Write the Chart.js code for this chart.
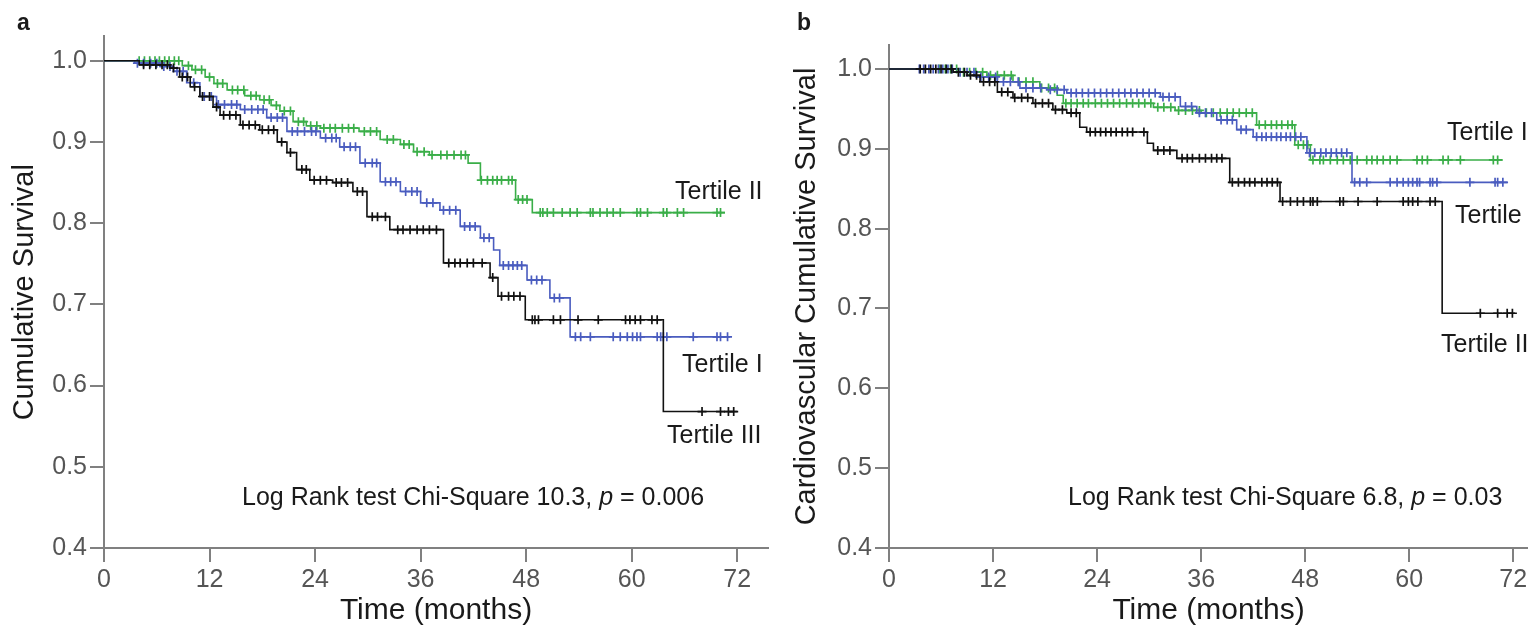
<!DOCTYPE html>
<html>
<head>
<meta charset="utf-8">
<script src="https://cdn.jsdelivr.net/npm/chart.js@4.4.1/dist/chart.umd.min.js"></script>
<style>
  body { margin: 0; background: #fff; }
  #wrap { position: relative; width: 1528px; height: 628px; overflow: hidden; }
  canvas { position: absolute; top: 0; }
  #chartA { left: 0; }
  #chartB { left: 780px; }
</style>
</head>
<body>
<div id="wrap">
  <canvas id="chartA" width="780" height="628"></canvas>
  <canvas id="chartB" width="748" height="628"></canvas>
</div>
<script>
// Kaplan-Meier curves
// times in months, survival as proportion; last entry is end of follow-up

// panel a - all-cause survival
const aT1Time = [0, 3.5, 6.4, 7.9, 9.4, 10.9, 12.8, 15.5, 18.5, 20.8, 24.6, 26.8, 29.1, 31.4, 33.7, 36.0, 38.2, 40.5, 42.8, 44.3, 45.0, 48.1, 50.7, 53.0, 71.2];
const aT1Surv = [1.0, 0.997, 0.993, 0.987, 0.973, 0.956, 0.946, 0.940, 0.930, 0.913, 0.905, 0.894, 0.874, 0.851, 0.839, 0.825, 0.816, 0.796, 0.782, 0.767, 0.748, 0.730, 0.708, 0.660, 0.660];
const aT1Cens = [3.8, 4.5, 5.3, 6.0, 6.8, 7.5, 8.3, 9.0, 10.2, 11.4, 12.2, 13.0, 13.7, 14.5, 15.1, 16.0, 16.8, 17.5, 18.1, 19.0, 19.7, 20.3, 21.4, 22.0, 22.8, 23.6, 24.1, 25.2, 25.9, 26.4, 27.3, 28.0, 28.6, 29.7, 30.5, 31.0, 32.0, 32.6, 33.2, 34.3, 35.0, 35.6, 36.7, 37.4, 38.6, 39.3, 40.0, 41.0, 41.6, 42.2, 43.2, 43.8, 45.4, 46.0, 46.5, 47.0, 47.5, 48.6, 49.2, 49.8, 51.2, 51.8, 53.6, 54.2, 55.3, 57.9, 58.7, 59.5, 60.1, 60.6, 61.0, 62.9, 63.3, 63.6, 64.0, 67.0, 69.7, 70.1, 70.9];

const aT2Time = [0, 8.9, 10.0, 11.5, 12.5, 14.0, 16.0, 17.7, 19.0, 20.0, 21.5, 23.0, 24.6, 29.0, 31.4, 33.7, 35.2, 37.0, 41.4, 42.8, 46.8, 48.7, 70.6];
const aT2Surv = [1.0, 0.994, 0.989, 0.980, 0.972, 0.964, 0.957, 0.952, 0.945, 0.938, 0.925, 0.920, 0.917, 0.913, 0.903, 0.897, 0.888, 0.884, 0.874, 0.853, 0.829, 0.813, 0.813];
const aT2Cens = [4.0, 4.6, 5.2, 5.8, 6.3, 6.9, 7.4, 8.0, 8.5, 9.6, 10.4, 11.1, 12.0, 12.9, 13.5, 14.6, 15.2, 15.9, 16.7, 17.3, 18.2, 18.8, 19.6, 20.5, 21.2, 22.1, 22.7, 23.5, 24.2, 25.0, 25.7, 26.3, 27.1, 27.8, 28.4, 29.6, 30.3, 31.0, 32.2, 32.9, 34.1, 34.7, 35.6, 36.4, 37.3, 38.3, 39.0, 39.8, 40.6, 41.1, 42.9, 43.6, 44.2, 44.7, 45.2, 46.0, 46.4, 47.1, 47.6, 48.1, 49.6, 49.9, 50.4, 51.1, 52.1, 53.0, 53.8, 55.3, 55.6, 56.4, 57.2, 57.9, 58.7, 60.6, 61.0, 61.8, 63.6, 64.0, 65.2, 65.9, 69.7, 70.1];

const aT3Time = [0, 4.0, 7.5, 8.6, 9.8, 10.9, 12.4, 13.2, 15.5, 17.7, 19.7, 20.8, 21.9, 23.4, 26.0, 28.3, 29.9, 32.5, 38.6, 43.9, 44.8, 47.9, 63.6, 72.0];
const aT3Surv = [1.0, 0.995, 0.991, 0.980, 0.968, 0.956, 0.943, 0.933, 0.921, 0.915, 0.900, 0.887, 0.866, 0.853, 0.850, 0.839, 0.808, 0.792, 0.751, 0.733, 0.710, 0.681, 0.568, 0.568];
const aT3Cens = [4.5, 5.2, 5.9, 6.6, 7.2, 7.9, 8.9, 9.5, 10.3, 11.2, 12.0, 12.8, 13.6, 14.3, 15.0, 15.8, 16.5, 17.2, 18.0, 18.7, 19.3, 20.2, 21.2, 22.5, 23.0, 23.9, 24.6, 25.3, 26.4, 27.0, 27.7, 28.8, 29.4, 30.5, 31.1, 32.0, 33.4, 34.0, 34.8, 35.6, 36.3, 37.0, 37.8, 39.2, 39.9, 40.5, 41.3, 42.0, 43.0, 44.2, 45.2, 46.0, 46.6, 47.3, 48.7, 49.0, 49.4, 51.1, 51.9, 53.9, 56.2, 59.3, 59.8, 60.4, 61.0, 62.3, 62.9, 68.0, 70.1, 71.0, 71.6];

// panel b - cardiovascular survival
const bT1Time = [0, 7.4, 10.0, 12.5, 15.1, 18.2, 20.5, 31.3, 33.6, 35.5, 37.8, 40.1, 42.0, 48.2, 53.4, 71.4];
const bT1Surv = [1.0, 0.996, 0.990, 0.984, 0.976, 0.974, 0.970, 0.965, 0.953, 0.945, 0.936, 0.924, 0.915, 0.895, 0.858, 0.858];
const bT1Cens = [3.5, 4.0, 4.6, 5.1, 5.7, 6.2, 6.8, 7.3, 8.2, 9.0, 9.8, 10.6, 11.5, 12.3, 13.2, 14.0, 14.9, 15.8, 16.6, 17.5, 18.6, 19.4, 20.2, 21.0, 21.6, 22.3, 23.0, 23.7, 24.4, 25.1, 25.8, 26.5, 27.2, 27.9, 28.6, 29.3, 30.0, 30.7, 31.6, 32.3, 33.0, 34.2, 34.9, 35.8, 36.5, 37.2, 38.3, 39.0, 39.6, 40.6, 41.2, 42.4, 43.0, 43.5, 44.1, 44.7, 45.2, 45.8, 46.3, 46.9, 47.5, 48.5, 49.1, 49.8, 50.4, 51.0, 51.6, 52.2, 52.8, 53.7, 54.3, 55.1, 57.8, 58.6, 59.3, 59.9, 60.4, 60.9, 61.2, 62.4, 62.7, 63.2, 67.0, 69.9, 70.2, 70.8];

const bT2Time = [0, 8.2, 11.3, 14.3, 17.4, 19.4, 20.1, 30.5, 33.0, 36.0, 42.4, 46.8, 48.6, 70.8];
const bT2Surv = [1.0, 0.996, 0.992, 0.984, 0.976, 0.967, 0.957, 0.952, 0.948, 0.945, 0.930, 0.905, 0.886, 0.886];
const bT2Cens = [5.8, 6.5, 7.1, 7.8, 8.6, 9.3, 10.0, 10.8, 11.7, 12.5, 13.3, 14.1, 15.0, 15.8, 16.6, 17.6, 18.4, 19.1, 20.4, 21.0, 21.7, 22.4, 23.0, 23.8, 24.5, 25.2, 25.9, 26.6, 27.4, 28.1, 28.8, 29.5, 30.2, 31.0, 31.7, 32.5, 33.4, 34.2, 35.0, 35.8, 36.6, 37.4, 38.2, 39.0, 39.7, 40.4, 41.2, 41.9, 42.7, 43.4, 44.1, 44.7, 45.3, 46.0, 46.5, 47.2, 47.8, 48.3, 48.9, 49.7, 50.1, 50.9, 51.7, 52.4, 53.2, 54.0, 55.1, 55.7, 56.3, 57.0, 57.8, 58.6, 60.9, 61.5, 62.1, 63.9, 64.5, 65.9, 69.7, 70.2];

const bT3Time = [0, 7.4, 9.0, 10.5, 12.5, 14.3, 16.6, 18.9, 20.5, 22.0, 22.8, 29.8, 30.5, 33.2, 39.3, 45.1, 63.8, 72.2];
const bT3Surv = [1.0, 0.996, 0.992, 0.984, 0.971, 0.964, 0.957, 0.949, 0.945, 0.927, 0.921, 0.907, 0.898, 0.888, 0.858, 0.834, 0.694, 0.694];
const bT3Cens = [3.6, 4.2, 4.8, 5.4, 6.0, 6.6, 7.2, 8.0, 8.7, 9.4, 10.1, 10.9, 11.6, 12.2, 13.0, 13.7, 14.5, 15.3, 16.0, 16.9, 17.7, 18.4, 19.2, 20.0, 21.0, 21.6, 23.2, 23.8, 24.4, 25.0, 25.6, 26.2, 26.9, 27.5, 28.1, 29.4, 31.0, 31.7, 32.4, 33.8, 34.4, 35.0, 35.8, 36.5, 37.2, 37.8, 38.4, 39.6, 40.3, 41.0, 41.6, 42.2, 43.0, 43.6, 44.2, 44.8, 45.4, 46.3, 47.1, 47.8, 48.6, 48.9, 49.4, 52.0, 52.4, 54.1, 56.3, 59.3, 59.9, 60.4, 61.0, 62.4, 63.0, 68.2, 70.2, 71.3, 71.9];

const xTicks = [0, 12, 24, 36, 48, 60, 72];
const yTicks = [0.4, 0.5, 0.6, 0.7, 0.8, 0.9, 1.0];

const GREEN = "#3aae48";
const BLUE = "#4a5cbf";
const BLACK = "#111111";
const FONT = "'Liberation Sans', Arial, sans-serif";

Chart.defaults.font.family = FONT;

// value of the step curve at time t
function survAt(times, surv, t) {
  let v = surv[0];
  for (let i = 0; i < times.length; i++) {
    if (times[i] <= t) v = surv[i];
  }
  return v;
}

function curve(times, surv, color) {
  return {
    type: "line",
    data: times.map((t, i) => ({ x: t, y: surv[i] })),
    stepped: "before",
    borderColor: color,
    borderWidth: 1.6,
    pointRadius: 0,
    fill: false,
  };
}

function censored(times, surv, cens, color) {
  return {
    type: "scatter",
    data: cens.map((c) => ({ x: c, y: survAt(times, surv, c) })),
    pointStyle: "cross",
    pointRadius: 4.5,
    pointBorderWidth: 1.7,
    borderColor: color,
    backgroundColor: color,
  };
}

// text drawn on the canvas (panel letter, test result, curve labels)
function textPlugin(items) {
  return {
    id: "panelText",
    afterDraw(chart) {
      const ctx = chart.ctx;
      ctx.save();
      ctx.fillStyle = "#1a1a1a";
      ctx.textBaseline = "alphabetic";
      ctx.textAlign = "left";
      items.forEach((it) => {
        let x = it.x;
        it.parts.forEach((p) => {
          ctx.font = (p.italic ? "italic " : "") + (it.bold ? "bold " : "") + it.size + "px " + FONT;
          ctx.fillText(p.t, x, it.y);
          x += ctx.measureText(p.t).width;
        });
      });
      ctx.restore();
    },
  };
}

function makeChart(id, cfg) {
  return new Chart(document.getElementById(id), {
    data: {
      datasets: [
        curve(cfg.t3[0], cfg.t3[1], BLACK),
        censored(cfg.t3[0], cfg.t3[1], cfg.t3[2], BLACK),
        curve(cfg.t1[0], cfg.t1[1], BLUE),
        censored(cfg.t1[0], cfg.t1[1], cfg.t1[2], BLUE),
        curve(cfg.t2[0], cfg.t2[1], GREEN),
        censored(cfg.t2[0], cfg.t2[1], cfg.t2[2], GREEN),
      ],
    },
    options: {
      responsive: false,
      animation: false,
      layout: { autoPadding: false, padding: { left: 0, right: cfg.padRight, top: cfg.padTop, bottom: 0 } },
      plugins: { legend: { display: false }, tooltip: { enabled: false } },
      scales: {
        x: {
          type: "linear",
          min: 0,
          max: cfg.xMax,
          afterBuildTicks: (s) => { s.ticks = xTicks.map((v) => ({ value: v })); },
          ticks: { color: "#555", font: { size: 25 }, padding: 3, maxRotation: 0, autoSkip: false },
          grid: { drawOnChartArea: false, drawTicks: true, tickLength: 14, color: "#808080", lineWidth: 2 },
          border: { display: true, color: "#808080", width: 2 },
          title: { display: true, text: "Time (months)", color: "#1a1a1a", font: { size: 30, lineHeight: 1.15 }, padding: 0 },
          afterFit: (s) => { s.height = 80; s.paddingLeft = 0; s.paddingRight = 0; },
        },
        y: {
          type: "linear",
          min: 0.4,
          max: 1.03,
          afterBuildTicks: (s) => { s.ticks = yTicks.map((v) => ({ value: v })); },
          ticks: { color: "#555", font: { size: 25 }, padding: 3, callback: (v) => v.toFixed(1) },
          grid: { drawOnChartArea: false, drawTicks: true, tickLength: 14, color: "#808080", lineWidth: 2 },
          border: { display: true, color: "#808080", width: 2 },
          title: { display: true, text: cfg.yTitle, color: "#1a1a1a", font: { size: 29, lineHeight: 1.15 }, padding: { top: cfg.titlePad, bottom: 0 } },
          afterFit: (s) => { s.width = cfg.yWidth; s.paddingTop = 0; s.paddingBottom = 0; },
        },
      },
    },
    plugins: [textPlugin(cfg.texts)],
  });
}

makeChart("chartA", {
  t1: [aT1Time, aT1Surv, aT1Cens],
  t2: [aT2Time, aT2Surv, aT2Cens],
  t3: [aT3Time, aT3Surv, aT3Cens],
  xMax: 75.5,
  padRight: 12,
  padTop: 36.4,
  yWidth: 104,
  titlePad: 8,
  yTitle: "Cumulative Survival",
  texts: [
    { x: 17, y: 30, size: 23, bold: true, parts: [{ t: "a" }] },
    { x: 242, y: 505, size: 25, parts: [{ t: "Log Rank test Chi-Square 10.3, " }, { t: "p", italic: true }, { t: " = 0.006" }] },
    { x: 675, y: 199, size: 25, parts: [{ t: "Tertile II" }] },
    { x: 682, y: 372, size: 25, parts: [{ t: "Tertile I" }] },
    { x: 667, y: 443, size: 25, parts: [{ t: "Tertile III" }] },
  ],
});

makeChart("chartB", {
  t1: [bT1Time, bT1Surv, bT1Cens],
  t2: [bT2Time, bT2Surv, bT2Cens],
  t3: [bT3Time, bT3Surv, bT3Cens],
  xMax: 73.7,
  padRight: 0,
  padTop: 45,
  yWidth: 109,
  titlePad: 10,
  yTitle: "Cardiovascular Cumulative Survival",
  texts: [
    { x: 17, y: 30, size: 23, bold: true, parts: [{ t: "b" }] },
    { x: 288, y: 505, size: 25, parts: [{ t: "Log Rank test Chi-Square 6.8, " }, { t: "p", italic: true }, { t: " = 0.03" }] },
    { x: 667, y: 140, size: 25, parts: [{ t: "Tertile II" }] },
    { x: 675, y: 223, size: 25, parts: [{ t: "Tertile I" }] },
    { x: 661, y: 352, size: 25, parts: [{ t: "Tertile III" }] },
  ],
});
</script>
</body>
</html>
